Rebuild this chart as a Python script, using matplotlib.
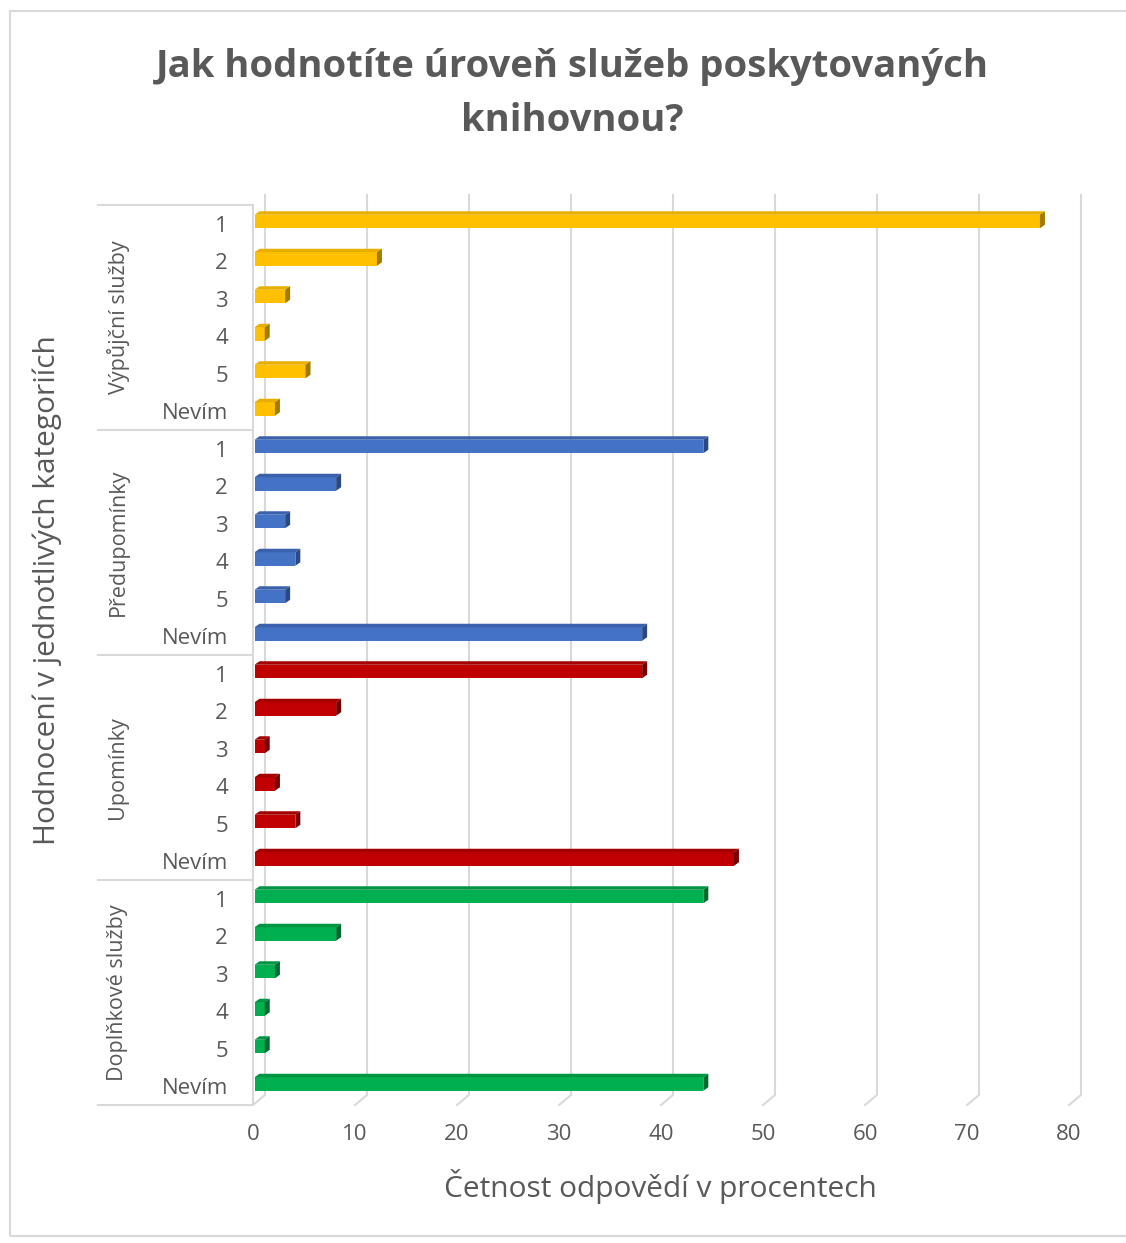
import matplotlib.pyplot as plt
import numpy as np
from matplotlib.patches import Polygon, Rectangle
from matplotlib.transforms import blended_transform_factory

plt.rcParams['font.family'] = ['Open Sans', 'DejaVu Sans']

groups = ['Výpůjční služby', 'Předupomínky', 'Upomínky', 'Doplňkové služby']
answers = ['1', '2', '3', '4', '5', 'Nevím']
vypujcni = [77, 12, 3, 1, 5, 2]
predupominky = [44, 8, 3, 4, 3, 38]
upominky = [38, 8, 1, 2, 4, 47]
doplnkove = [44, 8, 2, 1, 1, 44]
series = [vypujcni, predupominky, upominky, doplnkove]

colors = ['#FFC000', '#4472C4', '#C00000', '#00B050']
tops = ['#E8AE00', '#3A62AC', '#A30000', '#009443']
sides = ['#A37A00', '#2B4A82', '#760000', '#006B30']
xticks = list(range(0, 81, 10))
text_col = '#595959'
grid_col = '#D9D9D9'

W, H = 1126, 1243
fig = plt.figure(figsize=(W / 100, H / 100), dpi=100)
# outer chart border
fig.patches.append(Rectangle((10 / W, 7 / H), 1.0, 1 - 18 / H, transform=fig.transFigure,
                             fill=False, ec=grid_col, lw=1.5))

x0, x1 = 253, 1069      # pixel span of 0..80
ytop, ybot = 205, 1105  # pixel span of the category axis
ax = fig.add_axes([x0 / W, 1 - ybot / H, (x1 - x0) / W, (ybot - ytop) / H])
n = len(groups) * len(answers)
ax.set_xlim(0, 80)
ax.set_ylim(n - 0.5, -0.5)
px = 80 / (x1 - x0)        # data units per pixel (x)
py = n / (ybot - ytop)     # data units per pixel (y)

# 3D-ish gridlines on the back wall with floor diagonals
for t in xticks:
    ax.plot([t + 12 * px, t + 12 * px, t], [-0.5 - 10 * py, n - 0.5 - 10 * py, n - 0.5],
            color=grid_col, lw=1.5, clip_on=False, zorder=0)
ax.plot([0, 0], [-0.5, n - 0.5], color=grid_col, lw=1.5, clip_on=False, zorder=0)

# bars
h = 0.36
dx, dy = 5 * px, 3.5 * py
pos = 0
for g, vals in enumerate(series):
    ys = np.arange(pos, pos + len(vals)) - 0.06
    ax.barh(ys, vals, height=h, color=colors[g], left=0.15, zorder=3)
    for y, v in zip(ys, vals):
        top = y - h / 2
        bot = y + h / 2
        xe = v + 0.15
        ax.add_patch(Polygon([(0.15, top), (xe, top), (xe + dx, top - dy), (0.15 + dx, top - dy)],
                             closed=True, fc=tops[g], ec='none', zorder=3))
        ax.add_patch(Polygon([(xe, top), (xe + dx, top - dy), (xe + dx, bot - dy), (xe, bot)],
                             closed=True, fc=sides[g], ec='none', zorder=3))
    pos += len(vals)

for s in ax.spines.values():
    s.set_visible(False)

ax.set_yticks(range(n))
ax.set_yticklabels(answers * len(groups))
ax.set_xticks(xticks)
ax.tick_params(axis='y', length=0, pad=18, labelsize=16, labelcolor=text_col)
ax.tick_params(axis='x', length=0, pad=14, labelsize=16, labelcolor=text_col)

# multi-level category axis: separators and group names
bt = blended_transform_factory(ax.transAxes, ax.transData)
gx = (98 - x0) / (x1 - x0)
lx = (118 - x0) / (x1 - x0)
for k in range(len(groups) + 1):
    yb = k * len(answers) - 0.5
    ax.plot([gx, -2 / (x1 - x0)], [yb, yb], transform=bt, color=grid_col, lw=1.5, clip_on=False)
for k, name in enumerate(groups):
    ax.text(lx, k * len(answers) + 2.5, name, transform=bt, rotation=90, ha='center', va='center',
            fontsize=15.5, color=text_col)

fig.text(47 / W, 1 - 590 / H, 'Hodnocení v jednotlivých kategoriích', rotation=90,
         ha='center', va='center', fontsize=21.5, color=text_col)
fig.text(660 / W, 1 - 1186 / H, 'Četnost odpovědí v procentech', ha='center', va='center',
         fontsize=21.5, color=text_col)
fig.text(572 / W, 1 - 94 / H, 'Jak hodnotíte úroveň služeb poskytovaných\nknihovnou?',
         ha='center', va='center', fontsize=27.5, fontweight='bold', color=text_col, linespacing=1.55)

fig.savefig('out.png', dpi=100)
